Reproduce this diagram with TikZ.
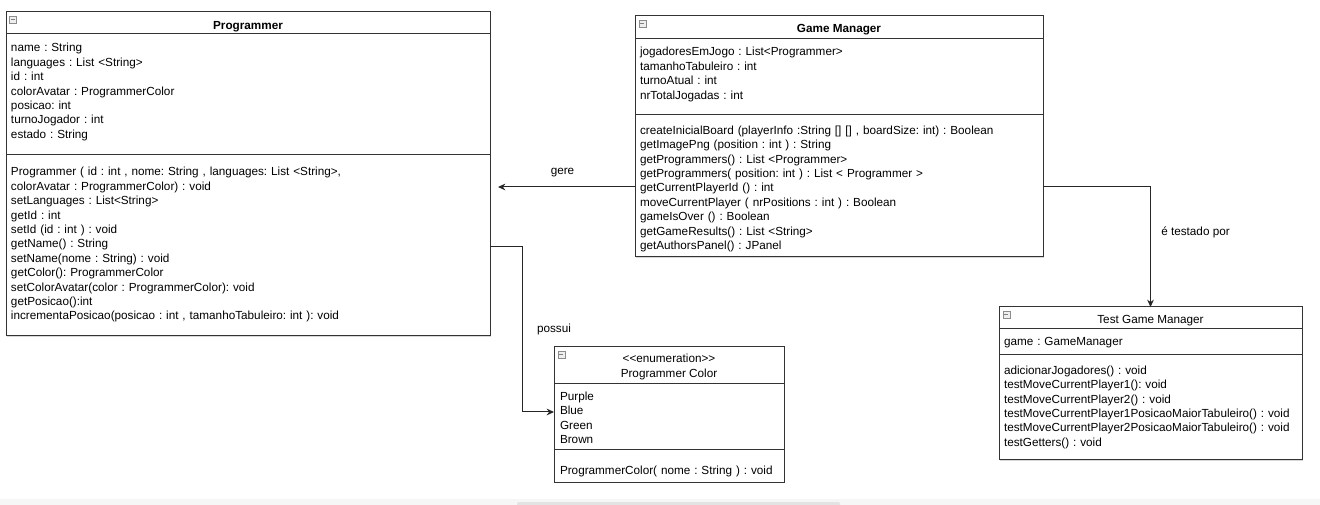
\documentclass[tikz,border=0pt]{standalone}
\usepackage{fontspec}
\newfontfamily\umlfont{Liberation Sans}
\usetikzlibrary{chains,fit,shapes,positioning,arrows.meta,shadows}

\begin{document}
\begin{tikzpicture}[x=0.75pt,y=-0.75pt]
\tikzstyle{every path}=[line width=0.75pt]
\edef\umlsize{\noexpand\umlfont\noexpand\frenchspacing\noexpand\fontsize{8.8pt}{10.8pt}\noexpand\selectfont}
\tikzstyle{classbox}=[draw=black!80,fill=white,inner sep=0pt,outer sep=0pt,
  drop shadow={shadow xshift=1pt,shadow yshift=-1pt,opacity=0.3}]
\tikzstyle{umlsep}=[draw=black!80]
\tikzstyle{umlicon}=[draw=gray!90,fill=blue!6!gray!12,minimum size=5.25pt,inner sep=0pt,
  anchor=north west,line width=0.5pt]
\tikzstyle{umltitle}=[inner sep=0pt,anchor=base,font=\umlsize]
\tikzstyle{umltext}=[inner sep=0pt,outer sep=0pt,align=left,text height=7.4pt,
  text depth=3.4pt,font=\umlsize]
\tikzstyle{progtext}=[umltext,text width=355pt]
\tikzstyle{gmtext}=[umltext,text width=298pt]
\tikzstyle{testtext}=[umltext,text width=222pt]
\tikzstyle{colortext}=[umltext,text width=168pt]
\tikzstyle{assoc}=[draw=black!85,-{Stealth[length=5.5pt,width=5pt]}]
\tikzstyle{lbl}=[inner sep=0pt,anchor=base,font=\umlsize]

\useasboundingbox (0,0) rectangle (1320,505);
\fill[white] (0,0) rectangle (1320,505);
\fill[gray!7] (0,499) rectangle (1320,505);
\fill[gray!22,rounded corners=1.5pt] (517,502) rectangle (840,507);

% class boxes
\node[classbox,fit={(6,12) (490,336)}] (prog) {};
\node[classbox,fit={(635,16) (1043,257)}] (gm) {};
\node[classbox,fit={(999,307) (1302,460)}] (tgm) {};
\node[classbox,fit={(554,347) (784,482)}] (pc) {};

\draw[umlsep] (6,34) -- (490,34);
\draw[umlsep] (6,155) -- (490,155);
\draw[umlsep] (635,38.5) -- (1043,38.5);
\draw[umlsep] (635,114.5) -- (1043,114.5);
\draw[umlsep] (999,329) -- (1302,329);
\draw[umlsep] (999,355) -- (1302,355);
\draw[umlsep] (554,384) -- (784,384);
\draw[umlsep] (554,450) -- (784,450);

% collapse icons
\node[umlicon] (progicon) at (9,16) {\textcolor{gray}{\rule{3pt}{0.6pt}}};
\node[umlicon] (gmicon) at (638.5,20) {\textcolor{gray}{\rule{3pt}{0.6pt}}};
\node[umlicon] (tgmicon) at (1002.5,311) {\textcolor{gray}{\rule{3pt}{0.6pt}}};
\node[umlicon] (pcicon) at (557.5,351) {\textcolor{gray}{\rule{3pt}{0.6pt}}};

% titles
\node[umltitle] (progtitle) at (248,29.3) {\bfseries Programmer};
\node[umltitle] (gmtitle) at (839,32.7) {\bfseries Game Manager};
\node[umltitle] (tgmtitle) at (1150.5,323.3) {Test Game Manager};
\node[umltitle] (pcstereo) at (669,362.7) {<<enumeration>>};
\node[umltitle] (pctitle) at (669,377.3) {Programmer Color};

\begin{scope}[start chain=pattr going below,node distance=0pt]
 \node [on chain=pattr,progtext,anchor=north west] at (11,42) {name : String};
 \node [on chain=pattr,progtext] {languages : List <String>};
 \node [on chain=pattr,progtext] {id : int};
 \node [on chain=pattr,progtext] {colorAvatar : ProgrammerColor};
 \node [on chain=pattr,progtext] {posicao: int};
 \node [on chain=pattr,progtext] {turnoJogador : int};
 \node [on chain=pattr,progtext] {estado : String};
\end{scope}

\begin{scope}[start chain=pmeth going below,node distance=0pt]
 \node [on chain=pmeth,progtext,anchor=north west] at (11,166) {Programmer ( id : int , nome: String , languages: List <String>,};
 \node [on chain=pmeth,progtext] {colorAvatar : ProgrammerColor) : void};
 \node [on chain=pmeth,progtext] {setLanguages : List<String>};
 \node [on chain=pmeth,progtext] {getId : int};
 \node [on chain=pmeth,progtext] {setId (id : int ) : void};
 \node [on chain=pmeth,progtext] {getName() : String};
 \node [on chain=pmeth,progtext] {setName(nome : String) : void};
 \node [on chain=pmeth,progtext] {getColor(): ProgrammerColor};
 \node [on chain=pmeth,progtext] {setColorAvatar(color : ProgrammerColor): void};
 \node [on chain=pmeth,progtext] {getPosicao():int};
 \node [on chain=pmeth,progtext] {incrementaPosicao(posicao : int , tamanhoTabuleiro: int ): void};
\end{scope}

\begin{scope}[start chain=gattr going below,node distance=0pt]
 \node [on chain=gattr,gmtext,anchor=north west] at (640,46) {jogadoresEmJogo : List<Programmer>};
 \node [on chain=gattr,gmtext] {tamanhoTabuleiro : int};
 \node [on chain=gattr,gmtext] {turnoAtual : int};
 \node [on chain=gattr,gmtext] {nrTotalJogadas : int};
\end{scope}

\begin{scope}[start chain=gmeth going below,node distance=0pt]
 \node [on chain=gmeth,gmtext,anchor=north west] at (640,124.4) {createInicialBoard (playerInfo :String [] [] , boardSize: int) : Boolean};
 \node [on chain=gmeth,gmtext] {getImagePng (position : int ) : String};
 \node [on chain=gmeth,gmtext] {getProgrammers() : List <Programmer>};
 \node [on chain=gmeth,gmtext] {getProgrammers( position: int ) : List < Programmer >};
 \node [on chain=gmeth,gmtext] {getCurrentPlayerId () : int};
 \node [on chain=gmeth,gmtext] {moveCurrentPlayer ( nrPositions : int ) : Boolean};
 \node [on chain=gmeth,gmtext] {gameIsOver () : Boolean};
 \node [on chain=gmeth,gmtext] {getGameResults() : List <String>};
 \node [on chain=gmeth,gmtext] {getAuthorsPanel() : JPanel};
\end{scope}

\begin{scope}[start chain=tattr going below,node distance=0pt]
 \node [on chain=tattr,testtext,anchor=north west] at (1004,336) {game : GameManager};
\end{scope}

\begin{scope}[start chain=tmeth going below,node distance=0pt]
 \node [on chain=tmeth,testtext,anchor=north west] at (1004,364.4) {adicionarJogadores() : void};
 \node [on chain=tmeth,testtext] {testMoveCurrentPlayer1(): void};
 \node [on chain=tmeth,testtext] {testMoveCurrentPlayer2() : void};
 \node [on chain=tmeth,testtext] {testMoveCurrentPlayer1PosicaoMaiorTabuleiro() : void};
 \node [on chain=tmeth,testtext] {testMoveCurrentPlayer2PosicaoMaiorTabuleiro() : void};
 \node [on chain=tmeth,testtext] {testGetters() : void};
\end{scope}

\begin{scope}[start chain=cattr going below,node distance=0pt]
 \node [on chain=cattr,colortext,anchor=north west] at (560,390.4) {Purple};
 \node [on chain=cattr,colortext] {Blue};
 \node [on chain=cattr,colortext] {Green};
 \node [on chain=cattr,colortext] {Brown};
\end{scope}

\begin{scope}[start chain=cmeth going below,node distance=0pt]
 \node [on chain=cmeth,colortext,anchor=north west] at (560,464.4) {ProgrammerColor( nome : String ) : void};
\end{scope}

% connectors
\coordinate (gerey) at (0,187);
\coordinate (possuibend) at (522,247);
\coordinate (possuiy) at (0,412);
\draw[assoc,shorten >=6pt] (gm.west |- gerey) -- (prog.east |- gerey);
\draw[assoc] (prog.east |- possuibend) -- (possuibend) |- (pc.west |- possuiy);
\draw[assoc] (gm.east |- gerey) -| (tgm.north);

\node[lbl] (lgere) at (562.5,175) {gere};
\node[lbl] (lpossui) at (554,332.5) {possui};
\node[lbl] (ltest) at (1195.5,235.5) {é testado por};
\end{tikzpicture}
\end{document}
